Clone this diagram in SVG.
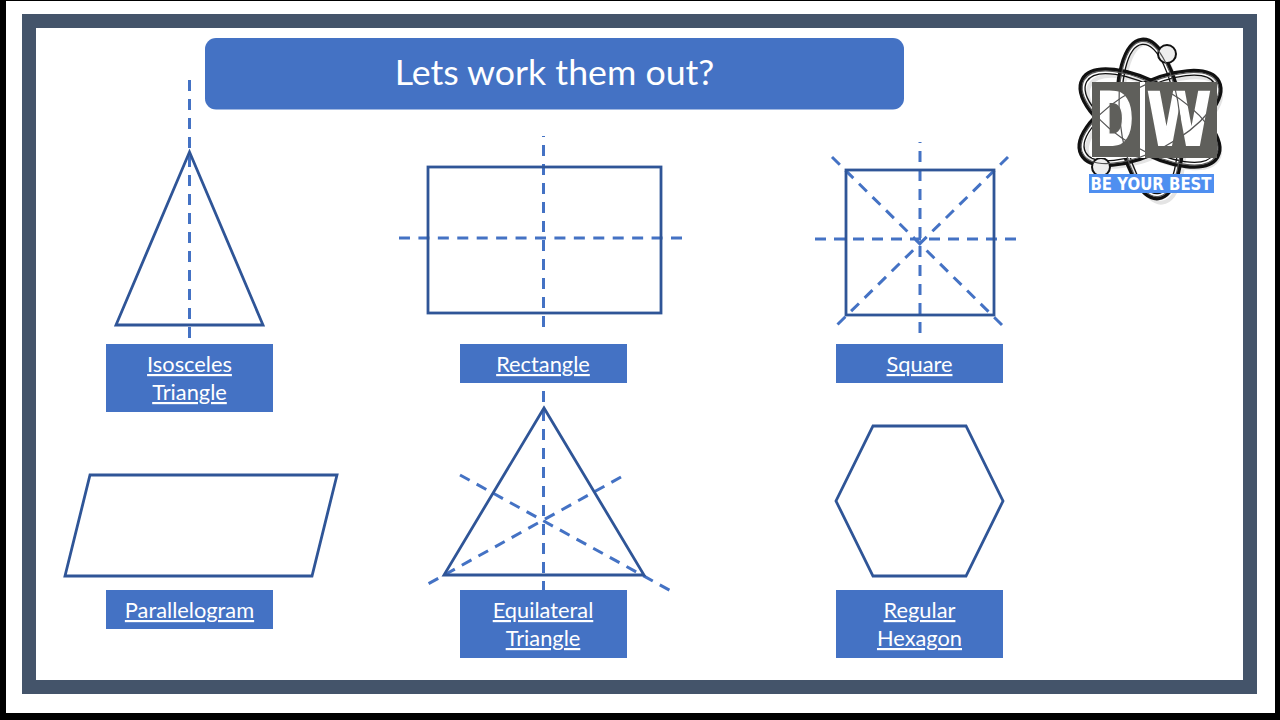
<svg xmlns="http://www.w3.org/2000/svg" width="1280" height="720" viewBox="0 0 1280 720">
<style>
.s{fill:none;stroke:#2f5597;stroke-width:2.8}
.d{fill:none;stroke:#4472c4;stroke-width:3;stroke-dasharray:11 8}
.w{stroke-dasharray:11 8.430}
.b{fill:#4472c4}
.t{font-family:Lato,"Open Sans",sans-serif;font-size:21.800px;fill:#fff;text-anchor:middle;text-decoration:underline}
.o{fill:none;stroke:#111;stroke-width:3.500}
.o2{fill:none;stroke:#111;stroke-width:1.300}
.o3{fill:none;stroke:#555;stroke-width:1.200}
.sh{fill:none;stroke:#e4e4e4;stroke-width:4}
.dw{font-family:"DejaVu Sans",sans-serif;font-weight:bold;font-size:73px;fill:#000;stroke:#000;stroke-width:2;text-anchor:middle}
</style>
<defs>
<mask id="md" maskUnits="userSpaceOnUse" x="1085" y="75" width="140" height="90"><rect x="1085" y="75" width="140" height="90" fill="#fff"/><text class="dw" x="1115" y="145" textLength="37" lengthAdjust="spacingAndGlyphs">D</text><text class="dw" x="1179" y="145" textLength="64" lengthAdjust="spacingAndGlyphs">W</text></mask>
</defs>
<rect width="1280" height="720" fill="#000"/>
<rect x="6" y="1" width="1269" height="712" fill="#fff"/>
<rect x="29" y="21" width="1221" height="666" fill="#fff" stroke="#44546a" stroke-width="14"/>

<g id="title">
<rect x="205" y="38" width="699" height="71.500" rx="11" class="b"/>
<text x="554.500" y="85" font-family="Lato,'Open Sans',sans-serif" font-size="35.700" fill="#fff" text-anchor="middle">Lets work them out?</text>
</g>

<g id="logo">
<g transform="translate(4 4)">
<ellipse cx="1150" cy="118" rx="74" ry="32" class="sh" transform="rotate(30 1150 118)"/>
<ellipse cx="1150" cy="118" rx="74" ry="32" class="sh" transform="rotate(-28 1150 118)"/>
<ellipse cx="1150" cy="119" rx="80" ry="30" class="sh" transform="rotate(84 1150 119)"/>
</g>
<g transform="rotate(30 1150 118)"><ellipse cx="1150" cy="118" rx="78" ry="34" class="o"/><ellipse cx="1150" cy="118" rx="73" ry="29" class="o2"/></g>
<g transform="rotate(-28 1150 118)"><ellipse cx="1150" cy="118" rx="78" ry="34" class="o"/><ellipse cx="1150" cy="118" rx="73" ry="29" class="o2"/></g>
<g transform="rotate(84 1150 119)"><ellipse cx="1150" cy="119" rx="80" ry="32" class="o"/><ellipse cx="1150" cy="119" rx="75" ry="27" class="o2"/></g>
<circle cx="1167" cy="54" r="9" fill="#eee" stroke="#111" stroke-width="2"/>
<circle cx="1101" cy="167" r="9" fill="#eee" stroke="#111" stroke-width="2"/>
<rect x="1092" y="82" width="125" height="76" fill="#fff"/>
<ellipse cx="1150" cy="118" rx="76" ry="32" class="o3" transform="rotate(30 1150 118)"/>
<ellipse cx="1150" cy="118" rx="76" ry="32" class="o3" transform="rotate(-28 1150 118)"/>
<ellipse cx="1150" cy="119" rx="78" ry="30" class="o3" transform="rotate(84 1150 119)"/>
<g mask="url(#md)">
<rect x="1092" y="82" width="48" height="75" fill="#5f5f5b"/>
<rect x="1145" y="82" width="72" height="76" fill="#5f5f5b"/>
</g>
<rect x="1089" y="174" width="125" height="19" fill="#4f8ff0"/>
<text x="1151" y="190" font-family="'DejaVu Sans',sans-serif" font-weight="bold" font-size="17" fill="#fff" text-anchor="middle" textLength="121" lengthAdjust="spacingAndGlyphs">BE YOUR BEST</text>
</g>

<g id="connectors">
<path class="d" d="M189.500 80V340"/>
<path class="d" d="M543.500 327V136"/>
<path class="d w" d="M682 238H399"/>
<path class="d" d="M920 333V142M815 239H1017M832 157L1003 326M1008 157L836 326"/>
<path class="d" d="M543.500 391V590M460 475L671 591M621 477L428 584"/>
</g>

<g id="isosceles"><path class="s" d="M189.500 152L263 325H116Z"/><rect class="b" x="106" y="344" width="167" height="68"/><text class="t" x="189.500" y="372">Isosceles</text><text class="t" x="189.500" y="400">Triangle</text></g>
<g id="rectangle"><rect class="s" x="428" y="167" width="233" height="146"/><rect class="b" x="460" y="344" width="167" height="39"/><text class="t" x="543" y="372">Rectangle</text></g>
<g id="square"><rect class="s" x="846" y="170" width="148" height="145"/><rect class="b" x="836" y="344" width="167" height="39"/><text class="t" x="919.500" y="372">Square</text></g>
<g id="parallelogram"><path class="s" d="M90 475H337L312 576H65Z"/><rect class="b" x="106" y="590" width="167" height="39"/><text class="t" x="189.500" y="618">Parallelogram</text></g>
<g id="equilateral"><path class="s" d="M544 408L644 575H444Z"/><rect class="b" x="460" y="590" width="167" height="68"/><text class="t" x="543" y="618">Equilateral</text><text class="t" x="543" y="646">Triangle</text></g>
<g id="hexagon"><path class="s" d="M873 426H966L1003 501L966 576H873L836 501Z"/><rect class="b" x="836" y="590" width="167" height="68"/><text class="t" x="919.500" y="618">Regular</text><text class="t" x="919.500" y="646">Hexagon</text></g>
</svg>
